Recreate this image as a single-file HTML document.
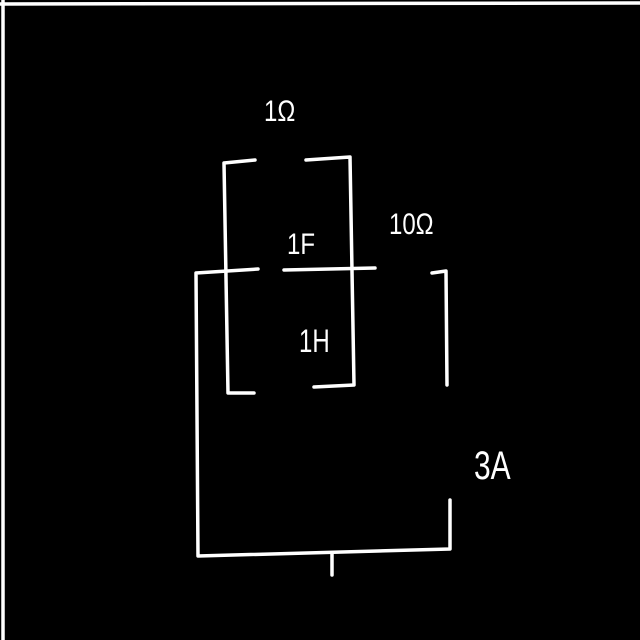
<!DOCTYPE html>
<html><head><meta charset="utf-8"><style>
html,body{margin:0;padding:0;background:#000;width:640px;height:640px;overflow:hidden}
svg{display:block}
text{font-family:"Liberation Sans",sans-serif;fill:#fff}
</style></head><body>
<svg width="640" height="640" viewBox="0 0 640 640">
<rect width="640" height="640" fill="#000"/>
<g stroke="#fff" stroke-width="3.5" fill="none" stroke-linecap="round" stroke-linejoin="round">
<line x1="0" y1="4" x2="640" y2="3"/>
<line x1="3" y1="0" x2="3" y2="640"/>
<polyline points="255,160 224,163 228,393 254,393"/>
<polyline points="306,160 350,157 354,385 314,387"/>
<polyline points="258,269 196,273 198,556 450,549 450,500"/>
<line x1="284" y1="270" x2="375" y2="268"/>
<polyline points="432,273 446,271 447,385"/>
<line x1="332" y1="553" x2="332" y2="575"/>
</g>
<text transform="translate(264,121) scale(0.8,1)" font-size="30">1Ω</text>
<text transform="translate(287,254) scale(0.8,1)" font-size="30">1F</text>
<text transform="translate(389,234) scale(0.8,1)" font-size="30">10Ω</text>
<text transform="translate(299,352) scale(0.75,1)" font-size="32">1H</text>
<text transform="translate(474,479) scale(0.75,1)" font-size="40">3A</text>
</svg>
</body></html>
